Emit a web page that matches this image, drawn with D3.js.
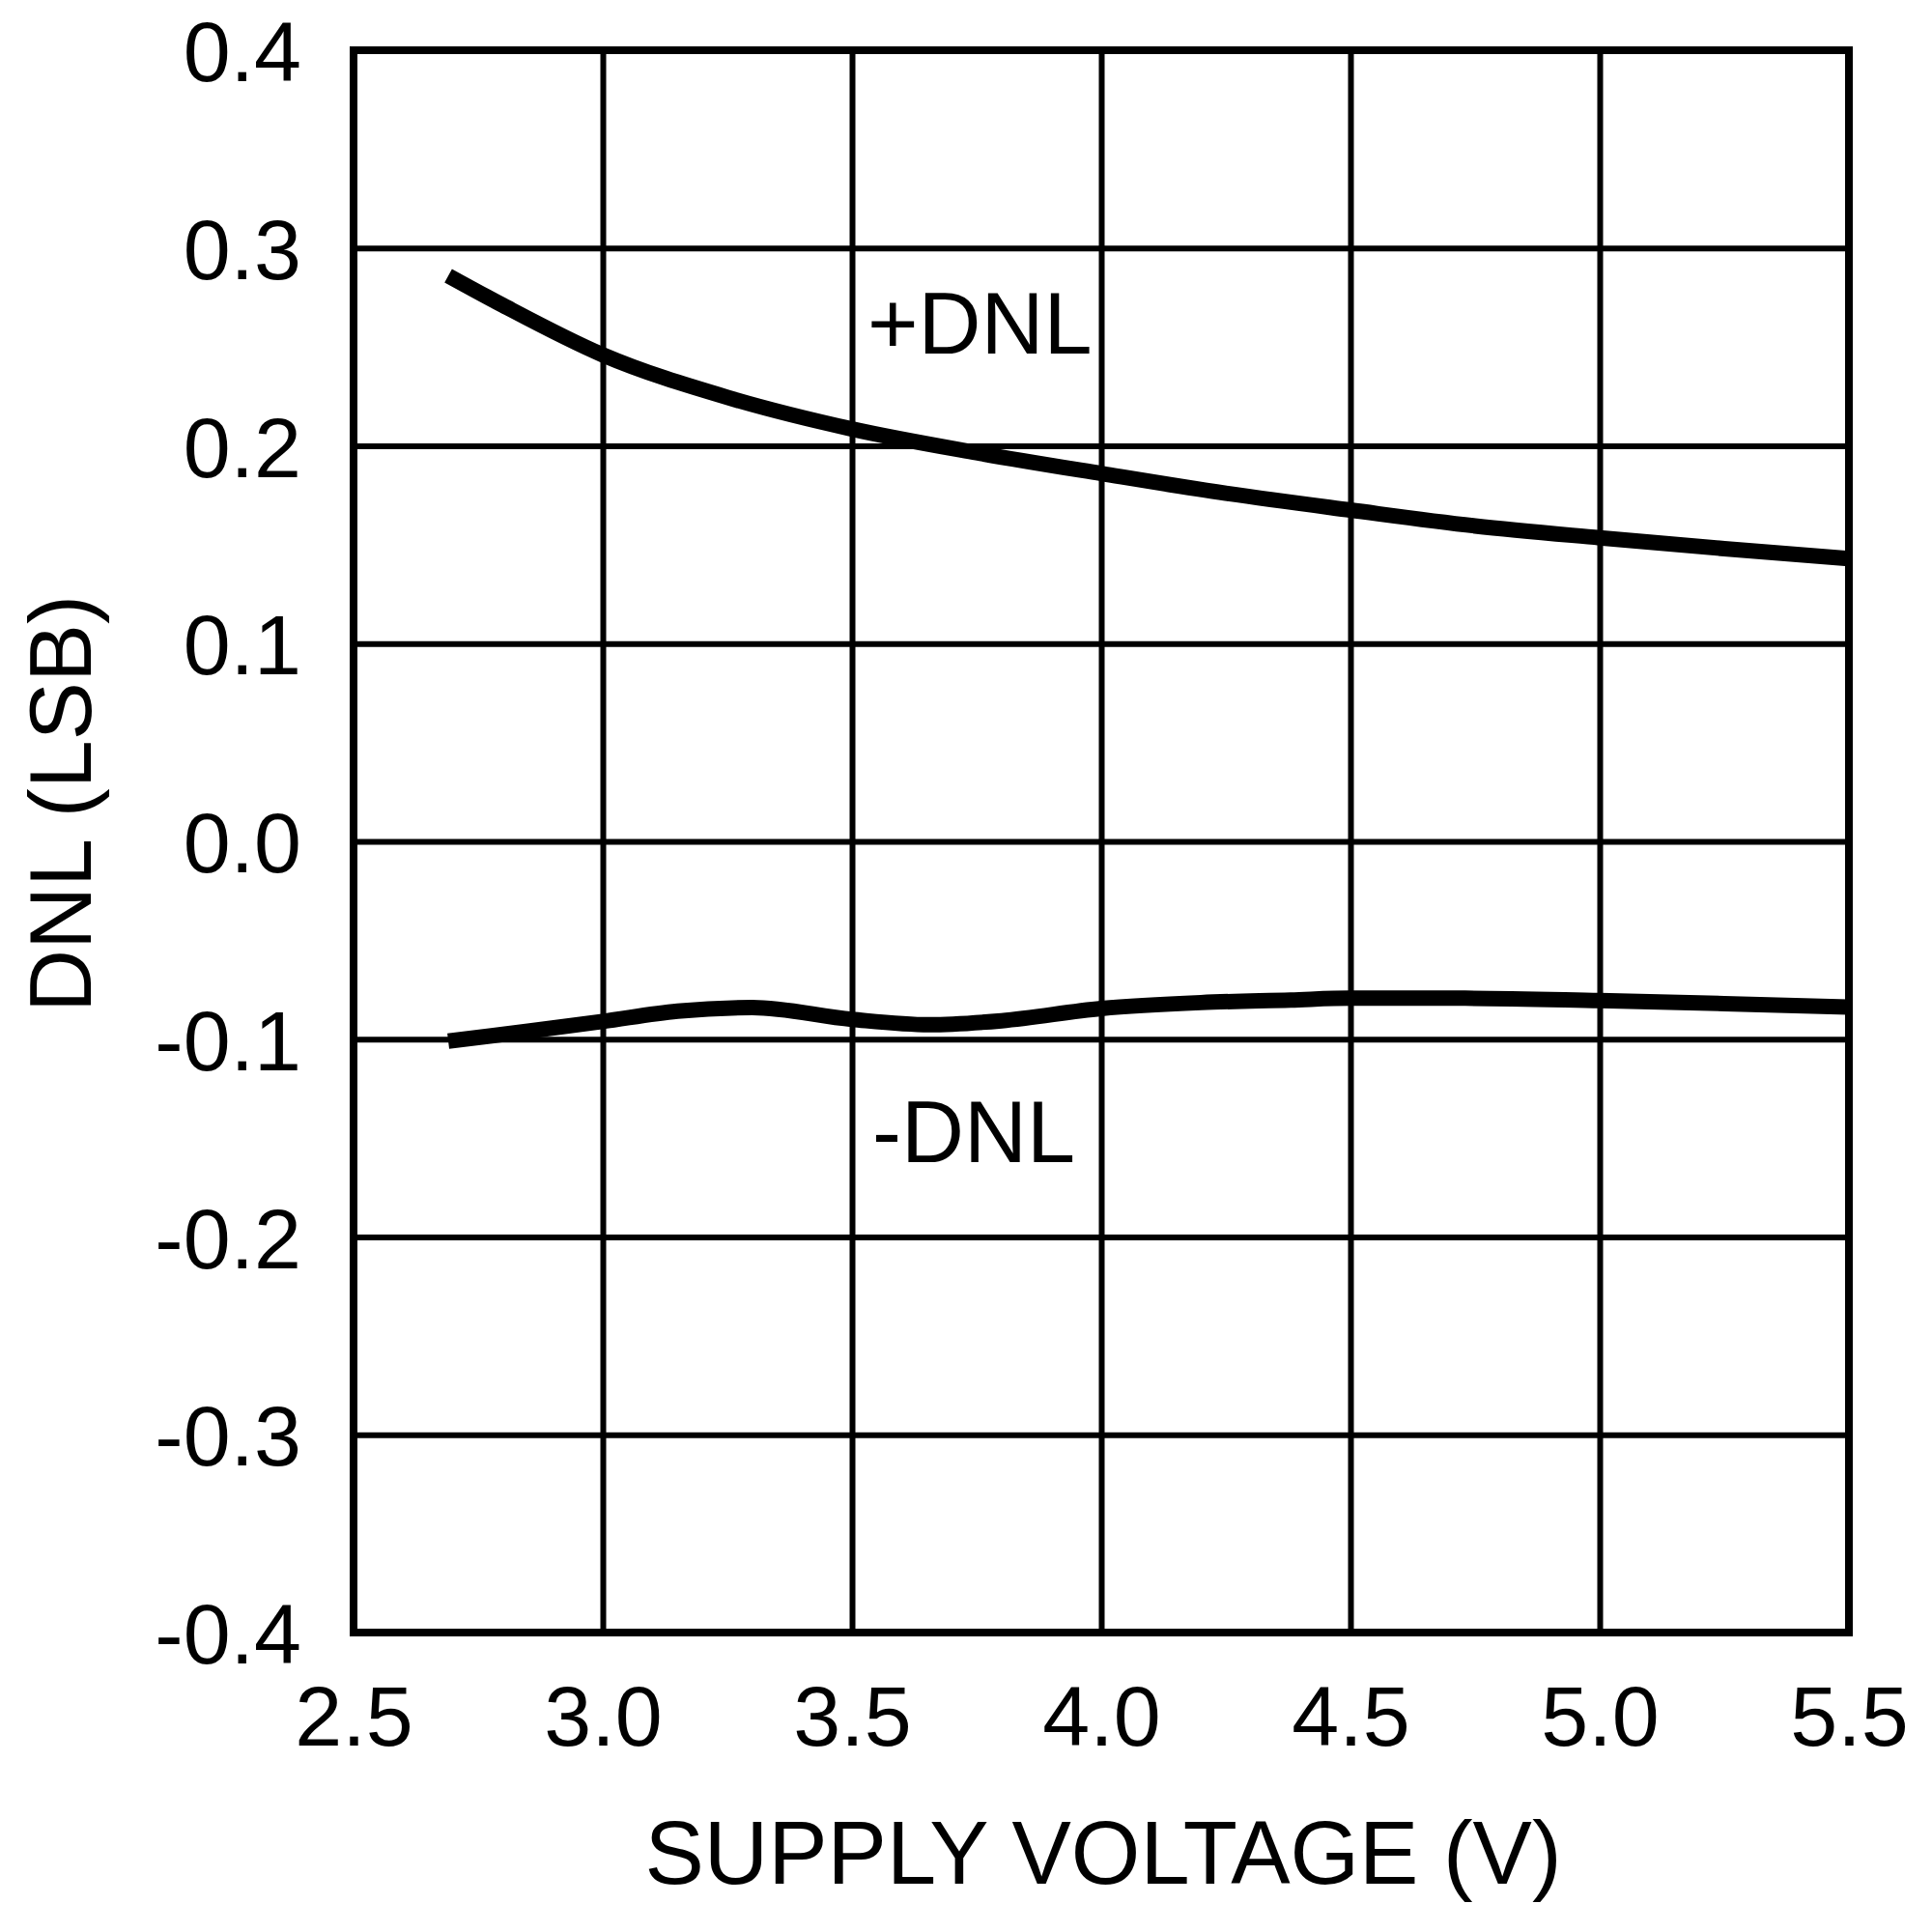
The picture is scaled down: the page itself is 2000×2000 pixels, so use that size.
<!DOCTYPE html>
<html lang="en">
  <head>
    <meta charset="utf-8" />
    <title>DNL vs supply voltage</title>
    <script type="text/javascript" src="https://cdn.jsdelivr.net/npm/d3@7"></script>
    <style type="text/css">
      body {
        margin: 0;
        background: white;
      }
      text {
        font-family: "Liberation Sans", Arial, sans-serif;
        fill: black;
      }
      .grid line {
        stroke: black;
        stroke-width: 6px;
      }
      .grid path {
        display: none;
      }
    </style>
  </head>
  <body>
    <script type="text/javascript">
      var w = 2000;
      var h = 2000;

      //values
      var plusX = [2.69, 2.8, 3.0, 3.25, 3.5, 3.75, 4.0, 4.25, 4.5, 4.75, 5.0, 5.25, 5.5];
      var plusY = [0.286, 0.271, 0.246, 0.2245, 0.2085, 0.1965, 0.186, 0.176, 0.1675, 0.1595, 0.1535, 0.148, 0.143];

      var minusX = [2.69, 2.85, 3.0, 3.15, 3.3, 3.5, 3.655, 3.8, 4.0, 4.2, 4.38, 4.5, 4.73, 5.0, 5.25, 5.5];
      var minusY = [-0.101, -0.096, -0.091, -0.0858, -0.084, -0.09, -0.0927, -0.0907, -0.0845, -0.0815, -0.0802, -0.0793, -0.0793, -0.0805, -0.082, -0.0838];

      var xTicks = [2.5, 3.0, 3.5, 4.0, 4.5, 5.0, 5.5];
      var xTickLabels = ["2.5", "3.0", "3.5", "4.0", "4.5", "5.0", "5.5"];
      var yTicks = [-0.4, -0.3, -0.2, -0.1, 0.0, 0.1, 0.2, 0.3, 0.4];
      var yTickLabels = ["-0.4", "-0.3", "-0.2", "-0.1", "0.0", "0.1", "0.2", "0.3", "0.4"];

      var plotLeft = 366, plotRight = 1914, plotTop = 52, plotBottom = 1690;

      var xScale = d3.scaleLinear().domain([2.5, 5.5]).range([plotLeft, plotRight]);
      var yScale = d3.scaleLinear().domain([-0.4, 0.4]).range([plotBottom, plotTop]);

      var svg = d3
        .select("body")
        .append("svg")
        .attr("width", w)
        .attr("height", h);

      //grid
      svg
        .append("g")
        .attr("class", "grid")
        .attr("transform", "translate(0," + plotBottom + ")")
        .call(d3.axisBottom(xScale).tickValues(xTicks).tickSize(-(plotBottom - plotTop)).tickFormat(""));

      svg
        .append("g")
        .attr("class", "grid")
        .attr("transform", "translate(" + plotLeft + ",0)")
        .call(d3.axisLeft(yScale).tickValues(yTicks).tickSize(-(plotRight - plotLeft)).tickFormat(""));

      //frame
      svg
        .append("rect")
        .attr("x", plotLeft)
        .attr("y", plotTop)
        .attr("width", plotRight - plotLeft)
        .attr("height", plotBottom - plotTop)
        .attr("fill", "none")
        .attr("stroke", "black")
        .attr("stroke-width", 8);

      //tick labels
      var xAxis = svg
        .append("g")
        .attr("transform", "translate(0," + plotBottom + ")")
        .call(
          d3.axisBottom(xScale)
            .tickValues(xTicks)
            .tickSize(0)
            .tickPadding(55)
            .tickFormat(function (d, i) {
              return xTickLabels[i];
            })
        );
      xAxis.select(".domain").remove();
      xAxis.selectAll("text").attr("font-size", 88).attr("font-family", null);

      var yAxis = svg
        .append("g")
        .attr("transform", "translate(" + plotLeft + ",0)")
        .call(
          d3.axisLeft(yScale)
            .tickValues(yTicks)
            .tickSize(0)
            .tickPadding(54)
            .tickFormat(function (d, i) {
              return yTickLabels[i];
            })
        );
      yAxis.select(".domain").remove();
      yAxis.selectAll("text").attr("font-size", 88).attr("font-family", null).attr("dy", "0.36em");

      //curves
      var line = d3
        .line()
        .x(function (d) {
          return xScale(d[0]);
        })
        .y(function (d) {
          return yScale(d[1]);
        })
        .curve(d3.curveMonotoneX);

      svg
        .append("path")
        .datum(d3.zip(plusX, plusY))
        .attr("d", line)
        .attr("fill", "none")
        .attr("stroke", "black")
        .attr("stroke-width", 16);

      svg
        .append("path")
        .datum(d3.zip(minusX, minusY))
        .attr("d", line)
        .attr("fill", "none")
        .attr("stroke", "black")
        .attr("stroke-width", 16);

      //curve labels
      svg.append("text").attr("x", 898).attr("y", 366).attr("font-size", 90).text("+DNL");
      svg.append("text").attr("x", 903).attr("y", 1203).attr("font-size", 90).text("-DNL");

      //axis titles
      svg
        .append("text")
        .attr("x", 1142)
        .attr("y", 1950)
        .attr("text-anchor", "middle")
        .attr("font-size", 92)
        .text("SUPPLY VOLTAGE (V)");

      svg
        .append("text")
        .attr("transform", "translate(94,832) rotate(-90)")
        .attr("text-anchor", "middle")
        .attr("font-size", 90)
        .text("DNL (LSB)");
    </script>
  </body>
</html>
